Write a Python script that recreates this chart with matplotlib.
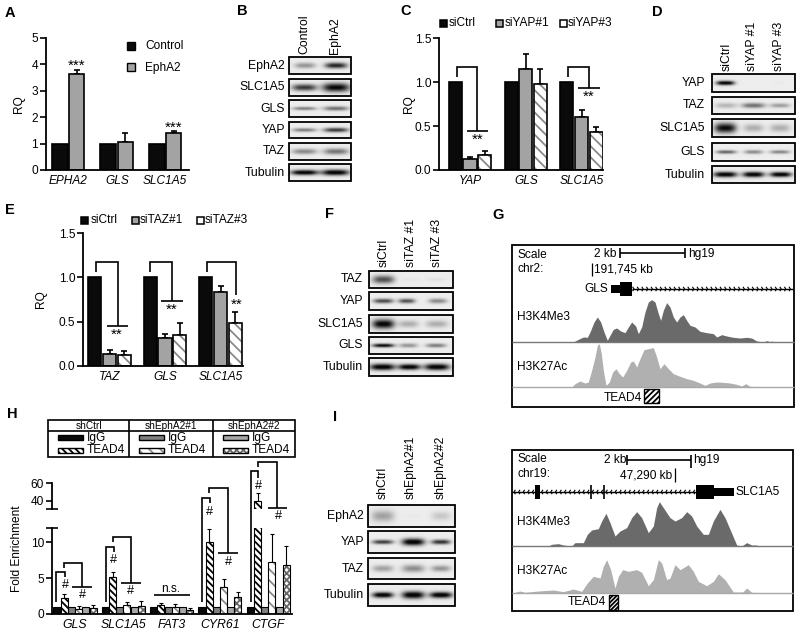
import numpy as np
import matplotlib
matplotlib.use("Agg")
import matplotlib.pyplot as plt
from matplotlib.patches import Rectangle

plt.rcParams['font.family'] = ['Liberation Sans', 'DejaVu Sans']
plt.rcParams['hatch.linewidth'] = 1.3

W, H = 800, 634
BLACK, GRAY, LGRAY = '#0a0a0a', '#a3a3a3', '#b0b0b0'

# ---------- data: bar panels ----------
a_genes = ['EPHA2', 'GLS', 'SLC1A5']
a_control = [1, 1, 1]
a_epha2 = [3.65, 1.07, 1.40]
a_epha2_top = [3.80, 1.42, 1.47]

c_genes = ['YAP', 'GLS', 'SLC1A5']
c_ctrl = [1, 1, 1]
c_si1 = [0.13, 1.15, 0.60]
c_si1_top = [0.15, 1.32, 0.68]
c_si3 = [0.17, 0.98, 0.43]
c_si3_top = [0.22, 1.15, 0.49]

e_genes = ['TAZ', 'GLS', 'SLC1A5']
e_ctrl = [1, 1, 1]
e_si1 = [0.13, 0.31, 0.84]
e_si1_top = [0.18, 0.36, 0.90]
e_si3 = [0.12, 0.35, 0.48]
e_si3_top = [0.17, 0.48, 0.61]

h_genes = ['GLS', 'SLC1A5', 'FAT3', 'CYR61', 'CTGF']
h_igg = [1, 1, 1, 1, 1]
h_ctrl_t = [2.3, 5.1, 1.2, 10.0, 40.0]
h_ctrl_top = [2.75, 5.8, 1.55, 11.9, 49.0]
h_sh1_t = [0.75, 1.2, 1.0, 3.8, 7.3]
h_sh1_top = [1.1, 1.7, 1.4, 4.85, 11.1]
h_sh2_t = [0.8, 1.1, 0.6, 2.4, 6.9]
h_sh2_top = [1.25, 1.8, 0.9, 3.1, 9.5]

# ---------- data: ChIP tracks (x px in track frame, height px) ----------
g_k4_x = [220,235,250,262,270,282,292,302,312,322,330,340,350,362,375,385,395,407,415,425,435,445,455,465,475,482,490,500,510,520,530,540,550,560,570,585,600,620,640,650,665,680,700,720,740,755,770,790,800,810,815,825,880]
g_k4_h = [0,8,15,14,30,60,75,60,30,5,20,38,42,33,28,45,60,48,25,45,90,120,127,120,85,65,95,118,105,75,60,75,82,65,50,45,32,28,25,15,22,18,14,12,14,12,3,0,4,1,3,0,1]
g_k27_x = [215,225,240,255,265,275,285,292,298,304,310,318,328,338,348,358,368,380,392,400,410,420,432,445,460,470,480,492,505,520,540,560,580,600,615,630,650,670,690,710,725,737,750,780,880]
g_k27_h = [0,10,18,12,15,50,90,125,130,100,50,5,15,45,55,40,30,50,75,78,60,85,112,115,118,90,55,70,55,40,32,25,20,12,5,12,15,14,12,8,3,10,2,1,1]
s_k4_x = [37,145,155,175,190,215,225,250,262,275,295,305,318,330,345,360,380,395,410,425,445,460,470,478,490,510,525,545,560,575,590,610,625,640,660,675,690,710,725,740,755,770,775,880]
s_k4_h = [0,0,5,7,3,0,10,10,35,48,52,75,98,70,30,45,55,85,103,85,40,60,115,133,115,85,75,85,103,90,60,35,35,75,110,85,50,3,0,10,3,3,0,0]
s_k27_x = [37,60,75,115,160,190,220,245,262,280,300,310,320,332,345,355,368,385,410,425,445,460,475,485,500,510,525,540,565,580,595,620,640,655,675,700,728,740,755,880]
s_k27_h = [0,6,2,6,9,4,12,5,30,50,45,80,100,70,15,50,70,65,70,62,22,40,100,90,40,45,85,70,85,65,35,22,35,58,40,3,3,15,2,0]

# ---------- data: western blots; bands = (x frac, half-width frac, half-height frac, darkness) ----------
b_labels = ['EphA2', 'SLC1A5', 'GLS', 'YAP', 'TAZ', 'Tubulin']
b_cols = ['Control', 'EphA2']
b_bands = [
    [(.26,.17,.17,.35),(.76,.18,.17,.80)],
    [(.25,.20,.20,.72),(.76,.22,.26,.92)],
    [(.25,.19,.10,.45),(.76,.20,.13,.50)],
    [(.25,.19,.12,.45),(.76,.20,.14,.72)],
    [(.25,.20,.16,.40),(.76,.20,.18,.48)],
    [(.25,.22,.15,1.0),(.75,.22,.17,1.0)],
]
d_labels = ['YAP', 'TAZ', 'SLC1A5', 'GLS', 'Tubulin']
d_cols = ['siCtrl', 'siYAP #1', 'siYAP #3']
d_bands = [
    [(.16,.11,.12,1.0),(.82,.05,.05,.03)],
    [(.17,.13,.16,.22),(.50,.14,.15,.50),(.82,.12,.13,.32)],
    [(.16,.13,.28,.90),(.50,.12,.22,.25),(.82,.12,.22,.25)],
    [(.17,.12,.10,.55),(.50,.11,.11,.40),(.82,.12,.10,.42)],
    [(.16,.14,.16,1.0),(.50,.13,.16,1.0),(.83,.13,.15,1.0)],
]
f_labels = ['TAZ', 'YAP', 'SLC1A5', 'GLS', 'Tubulin']
f_cols = ['siCtrl', 'siTAZ #1', 'siTAZ #3']
f_bands = [
    [(.17,.13,.24,.62),(.50,.10,.10,.03),(.80,.12,.10,.05)],
    [(.17,.12,.13,.65),(.45,.10,.13,.62),(.82,.11,.14,.40)],
    [(.17,.13,.26,.95),(.47,.12,.20,.25),(.81,.13,.20,.25)],
    [(.17,.13,.11,.92),(.47,.11,.13,.35),(.80,.12,.12,.45)],
    [(.16,.15,.18,1.0),(.48,.13,.16,1.0),(.81,.15,.18,1.0)],
]
i_labels = ['EphA2', 'YAP', 'TAZ', 'Tubulin']
i_cols = ['shCtrl', 'shEphA2#1', 'shEphA2#2']
i_bands = [
    [(.17,.13,.26,.30),(.52,.10,.10,.02),(.84,.11,.20,.15)],
    [(.17,.12,.10,.70),(.52,.13,.16,1.0),(.84,.11,.11,.75)],
    [(.17,.12,.16,.30),(.52,.13,.18,.38),(.84,.11,.15,.35)],
    [(.17,.12,.13,1.0),(.52,.13,.17,1.0),(.84,.13,.14,1.0)],
]

fig = plt.figure(figsize=(W/100, H/100), dpi=100)
FS = 8.6


def px_axes(x0, y0, x1, y1):
    ax = fig.add_axes([x0/W, 1-y1/H, (x1-x0)/W, (y1-y0)/H])
    ax.patch.set_alpha(0)
    for s in ('top', 'right'):
        ax.spines[s].set_visible(False)
    for s in ('left', 'bottom'):
        ax.spines[s].set_linewidth(1.3)
    ax.tick_params(axis='y', length=4.2, width=1.2, labelsize=FS, pad=1.5)
    ax.tick_params(axis='x', length=0, labelsize=FS, pad=3.5)
    return ax


def bar(ax, x, y, top, w, face, hatch=None, hcol='k', lw=1.2):
    if hatch:
        ax.bar(x, y, w, color='white', edgecolor=hcol, hatch=hatch, linewidth=0, zorder=2)
        ax.bar(x, y, w, color='none', edgecolor='k', linewidth=lw, zorder=3)
    else:
        ax.bar(x, y, w, color=face, edgecolor='k', linewidth=lw, zorder=2)
    if top is not None:
        ax.errorbar(x, y, yerr=[[0], [top-y]], color='k', lw=lw, capsize=2.4 if w > .15 else 1.6,
                    capthick=lw, zorder=1.5)


def ylabel_at(ax, box, px):
    ax.set_ylabel('RQ', fontsize=FS)
    ax.yaxis.set_label_coords((px-box[0])/(box[2]-box[0]), .5)


def triple(box, xc0, spacing, step, bw, genes, ctrl, s1, s1t, s3, s3t, ymax, ticks, fmt, lab_px):
    ax = px_axes(*box)
    ax.set_xlim((box[0]-xc0)/spacing, (box[2]-xc0)/spacing)
    ax.set_ylim(0, ymax)
    for i in range(len(genes)):
        bar(ax, i-step, ctrl[i], None, bw, BLACK)
        bar(ax, i, s1[i], s1t[i], bw, GRAY)
        bar(ax, i+step, s3[i], s3t[i], bw, 'white', hatch='\\\\\\', hcol='#8a8a8a')
    ax.set_yticks(ticks)
    ax.set_yticklabels([fmt % t for t in ticks])
    ax.set_xticks(range(len(genes)))
    ax.set_xticklabels(genes, style='italic')
    ylabel_at(ax, box, lab_px)
    return ax


# Panel A
boxA = (46, 38, 189, 170)
axA = px_axes(*boxA)
xs = np.arange(3)
axA.set_xlim(-0.466, 2.495)
axA.set_ylim(0, 5)
for i in xs:
    bar(axA, i-.175, a_control[i], None, .33, BLACK)
    bar(axA, i+.175, a_epha2[i], a_epha2_top[i], .31, GRAY)
axA.set_yticks(range(6))
axA.set_xticks(xs)
axA.set_xticklabels(a_genes, style='italic')
ylabel_at(axA, boxA, 25)

# Panel C and E
triple((439, 38.3, 603, 170), 470, 55.8, .263, .235, c_genes, c_ctrl, c_si1, c_si1_top, c_si3, c_si3_top,
       1.5, [0, .5, 1, 1.5], '%.1f', 415)
triple((83, 233.3, 243, 365.7), 109.5, 55.5, .265, .235, e_genes, e_ctrl, e_si1, e_si1_top, e_si3, e_si3_top,
       1.5, [0, .5, 1, 1.5], '%.1f', 47)

# Panel H (broken axis)
axL = px_axes(52, 528, 292, 614)
axU = px_axes(52, 483, 292, 509)
h_series = [
    (h_igg, None, BLACK, None, 'k'),
    (h_ctrl_t, h_ctrl_top, 'white', '\\\\\\\\\\', 'k'),
    (h_igg, None, '#808080', None, 'k'),
    (h_sh1_t, h_sh1_top, 'white', '\\\\\\', '#8a8a8a'),
    (h_igg, None, '#a8a8a8', None, 'k'),
    (h_sh2_t, h_sh2_top, 'white', 'xxxxx', '#666666'),
]
for ax, lim in ((axL, (0, 12)), (axU, (31, 60))):
    ax.set_xlim(-0.476, 4.49)
    ax.set_ylim(*lim)
    for i in range(len(h_genes)):
        for j, (vals, tops, face, ht, hc) in enumerate(h_series):
            bar(ax, i+(j-2.5)*.149, vals[i], None if tops is None else tops[i], .145, face, hatch=ht, hcol=hc, lw=.8)
axL.set_yticks([0, 5, 10])
axL.set_xticks(range(5))
axL.set_xticklabels(h_genes, style='italic')
axL.tick_params(axis='x', labelsize=FS+.2)
axU.set_yticks([40, 60])
axU.set_xticks([])
axU.spines['bottom'].set_visible(False)
fig.text(17/W, 1-549/H, 'Fold Enrichment', rotation=90, fontsize=FS, ha='center', va='center')

# ---------- overlay in pixel space for annotations, blots, tracks ----------
ov = fig.add_axes([0, 0, 1, 1], zorder=10)
ov.patch.set_alpha(0)
ov.axis('off')


def line(xs, ys, lw=1.2, c='k'):
    ov.plot(xs, ys, color=c, lw=lw, solid_capstyle='butt', solid_joinstyle='miter')


def txt(x, y, s, size=FS, ha='left', va='center', **kw):
    ov.text(x, y, s, fontsize=size, ha=ha, va=va, **kw)


for s, x, y in [('A', 10, 13), ('B', 242, 11), ('C', 406, 11), ('D', 657, 12), ('E', 10, 210),
                ('F', 329, 214), ('G', 498, 215), ('H', 12, 414), ('I', 335, 417)]:
    txt(x, y, s, size=10.5, ha='center', fontweight='bold')

# legends
ov.add_patch(Rectangle((127, 42), 8, 8, fc=BLACK, ec='k', lw=1))
ov.add_patch(Rectangle((127, 63), 7.5, 7.5, fc=GRAY, ec='k', lw=1))
txt(145, 46, 'Control'); txt(145, 67.5, 'EphA2')


def si_leg(y, items):
    for x, tx, label, face in items:
        ov.add_patch(Rectangle((x, y-3.5), 6.5, 7, fc=face, ec='k', lw=1.1, hatch=None))
        txt(tx, y, label)


si_leg(23, [(440, 449, 'siCtrl', BLACK), (496, 505, 'siYAP#1', GRAY), (560, 568, 'siYAP#3', 'white')])
si_leg(220, [(81, 91, 'siCtrl', BLACK), (132, 140, 'siTAZ#1', GRAY), (197, 205, 'siTAZ#3', 'white')])

# stars
txt(77, 66, '***', ha='center', size=11); txt(174, 128, '***', ha='center', size=11)


def brk(x0, x1, top, y0, y1, hx=None, hy=None):
    line([x0, x0, x1, x1], [y0, top, top, y1])
    if hx:
        line(hx, [hy, hy])


brk(457, 477, 67, 77, 131, (467, 488), 131); txt(478, 140, '**', ha='center', size=11)
brk(568, 589, 67, 77, 88, (578, 600), 88); txt(589, 97, '**', ha='center', size=11)
brk(96, 118, 262, 272, 326, (107, 128), 326); txt(117, 335, '**', ha='center', size=11)
brk(150, 172, 262, 272, 301, (161, 183), 301); txt(172, 310, '**', ha='center', size=11)
brk(207, 236, 262, 272, 295); txt(237, 305, '**', ha='center', size=11)

# H brackets
for (l, r, t, b1, b2, sx, sy) in [(56, 65, 572, 602, 577, 65, 585), (106, 114, 547, 602, 552, 113, 560),
                                  (202, 210, 498, 602, 503, 209, 512), (251, 258, 471, 602, 478, 258, 486)]:
    brk(l, r, t, b1, b2); txt(sx, sy, '#', ha='center', size=FS+.5)
for (l, r, t, b, hx, sx, sy) in [(64, 82, 563, 587, (72, 92), 82, 595), (113, 131, 537, 583, (121, 141), 130, 591),
                                 (209, 228, 488, 553, (218, 238), 228, 562), (258, 277, 462, 508, (268, 287), 278, 516)]:
    brk(l, r, t, t+5, b, hx, b); txt(sx, sy, '#', ha='center', size=FS+.5)
line([154, 190], [595, 595]); txt(171, 589, 'n.s.', ha='center')
line([46, 58], [509, 509]); line([46, 58], [528, 528])

# H legend table
ov.add_patch(Rectangle((48, 420), 247, 37, fc='white', ec='k', lw=1.2))
line([48, 295], [431, 431]); line([129, 129], [420, 457]); line([213, 213], [420, 457])
for cx, s in [(89, 'shCtrl'), (171, 'shEphA2#1'), (254, 'shEphA2#2')]:
    txt(cx, 426, s, ha='center', size=7.3)
leg_rows = [(58, 87, BLACK, None, 'k'), (139, 168, '#808080', None, 'k'), (223, 252, '#a8a8a8', None, 'k')]
leg_t = ['\\\\\\\\\\', '\\\\\\', 'xxxxx']
leg_c = ['k', '#8a8a8a', '#666666']
for (x, tx, face, _, _), ht, hc in zip(leg_rows, leg_t, leg_c):
    ov.add_patch(Rectangle((x, 435), 25, 5, fc=face, ec='k', lw=1))
    ov.add_patch(Rectangle((x, 447.5), 25, 5, fc='white', ec=hc, hatch=ht, lw=0))
    ov.add_patch(Rectangle((x, 447.5), 25, 5, fc='none', ec='k', lw=1))
    txt(tx, 438, 'IgG'); txt(tx, 450, 'TEAD4')


def blot(x0, x1, rows, labels, cols, bands, lab_x, col_x, col_b):
    for (y0, y1), lab, bb in zip(rows, labels, bands):
        nx, ny = 200, 50
        X, Y = np.meshgrid(np.linspace(0, 1, nx), np.linspace(0, 1, ny))
        img = np.full_like(X, .93)
        for cx, hw, hh, d in bb:
            img -= d * np.exp(-np.abs((X-cx)/hw)**3.2) * np.exp(-((Y-.5)/hh)**2)
        ov.imshow(np.clip(img, 0.03, 1), extent=(x0, x1, y1, y0), cmap='gray', vmin=0, vmax=1,
                  aspect='auto', interpolation='bilinear', zorder=1)
        ov.add_patch(Rectangle((x0, y0), x1-x0, y1-y0, fc='none', ec='k', lw=1.3, zorder=2))
        txt(lab_x, (y0+y1)/2, lab, ha='right', size=FS+.2)
    for cx, lab in zip(col_x, cols):
        txt(cx, col_b, lab, ha='center', va='bottom', rotation=90, size=FS+.2)


blot(289, 351, [(57, 74), (79, 96), (100, 117), (122, 138), (143, 160), (164, 181)], b_labels, b_cols, b_bands,
     285, [304, 335], 54)
blot(712, 795, [(74, 92), (97, 114), (119, 137), (143, 161), (166, 183)], d_labels, d_cols, d_bands,
     705, [727, 752, 779], 71)
blot(369, 453, [(271, 288), (292, 310), (315, 333), (337, 354), (358, 376)], f_labels, f_cols, f_bands,
     363, [384, 411, 437], 267)
blot(368, 455, [(505, 527), (531, 553), (558, 579), (584, 606)], i_labels, i_cols, i_bands,
     364, [383, 411, 441], 499)


def track(xz, hz, base, color):
    x = 500 + np.array(xz)/3
    y = base - np.array(hz)/3
    ov.fill_between(x, y, base, color=color, lw=0, zorder=2)


def chevrons(x0, x1, y, d=1):
    line([x0, x1], [y, y], lw=1)
    for x in np.arange(x0+2, x1, 4.6):
        line([x-1.4*d, x, x-1.4*d], [y-2.2, y, y+2.2], lw=.8)


# Panel G
ov.add_patch(Rectangle((512, 245), 282, 162, fc='white', ec='k', lw=1.3, zorder=.5))
txt(517, 255, 'Scale'); txt(517, 269, 'chr2:')
txt(617, 254, '2 kb', ha='right')
line([620, 685], [253, 253]); line([620, 620], [248, 258]); line([685, 685], [248, 258])
txt(688, 254, 'hg19')
line([592, 592], [263, 276], lw=.9); txt(594, 270, '191,745 kb')
txt(608, 289, 'GLS', ha='right')
chevrons(632, 793, 289)
ov.add_patch(Rectangle((611, 285), 9, 8, fc='k', ec='k', lw=0))
ov.add_patch(Rectangle((620, 282), 12, 14, fc='k', ec='k', lw=0))
track(g_k4_x, g_k4_h, 342, '#6a6a6a')
line([512, 794], [342, 342], c='#777777', lw=1)
track(g_k27_x, g_k27_h, 387, '#b0b0b0')
line([512, 794], [387, 387], c='#a8a8a8', lw=1)
txt(517, 317, 'H3K4Me3'); txt(517, 367, 'H3K27Ac')
txt(642, 398, 'TEAD4', ha='right')
ov.add_patch(Rectangle((644, 389), 15, 14, fc='white', ec='k', lw=1, hatch='//////', zorder=3))

# Panel G lower
ov.add_patch(Rectangle((512, 450), 281, 161, fc='white', ec='k', lw=1.3, zorder=.5))
txt(517, 459, 'Scale'); txt(517, 474, 'chr19:')
txt(626, 460, '2 kb', ha='right')
line([627, 691], [460, 460]); line([627, 627], [455, 465]); line([691, 691], [455, 468])
txt(693, 460, 'hg19')
txt(672, 475, '47,290 kb', ha='right'); line([675, 675], [468, 482], lw=.9)
chevrons(512, 696, 492, d=-1)
ov.add_patch(Rectangle((535, 485), 5, 14, fc='k', lw=0))
line([591, 591], [485, 499]); line([604, 604], [485, 499])
ov.add_patch(Rectangle((696, 485), 18, 14, fc='k', lw=0))
ov.add_patch(Rectangle((714, 488), 20, 8, fc='k', lw=0))
txt(736, 492, 'SLC1A5')
track(s_k4_x, s_k4_h, 546, '#6a6a6a')
line([512, 793], [546, 546], c='#777777', lw=1)
track(s_k27_x, s_k27_h, 593, '#b0b0b0')
line([512, 793], [593, 593], c='#a8a8a8', lw=1)
txt(517, 522, 'H3K4Me3'); txt(517, 571, 'H3K27Ac')
txt(606, 602, 'TEAD4', ha='right')
ov.add_patch(Rectangle((609, 595), 9, 15, fc='white', ec='k', lw=1, hatch='////////', zorder=3))

ov.set_xlim(0, W)
ov.set_ylim(H, 0)
fig.savefig('out.png', dpi=100)
